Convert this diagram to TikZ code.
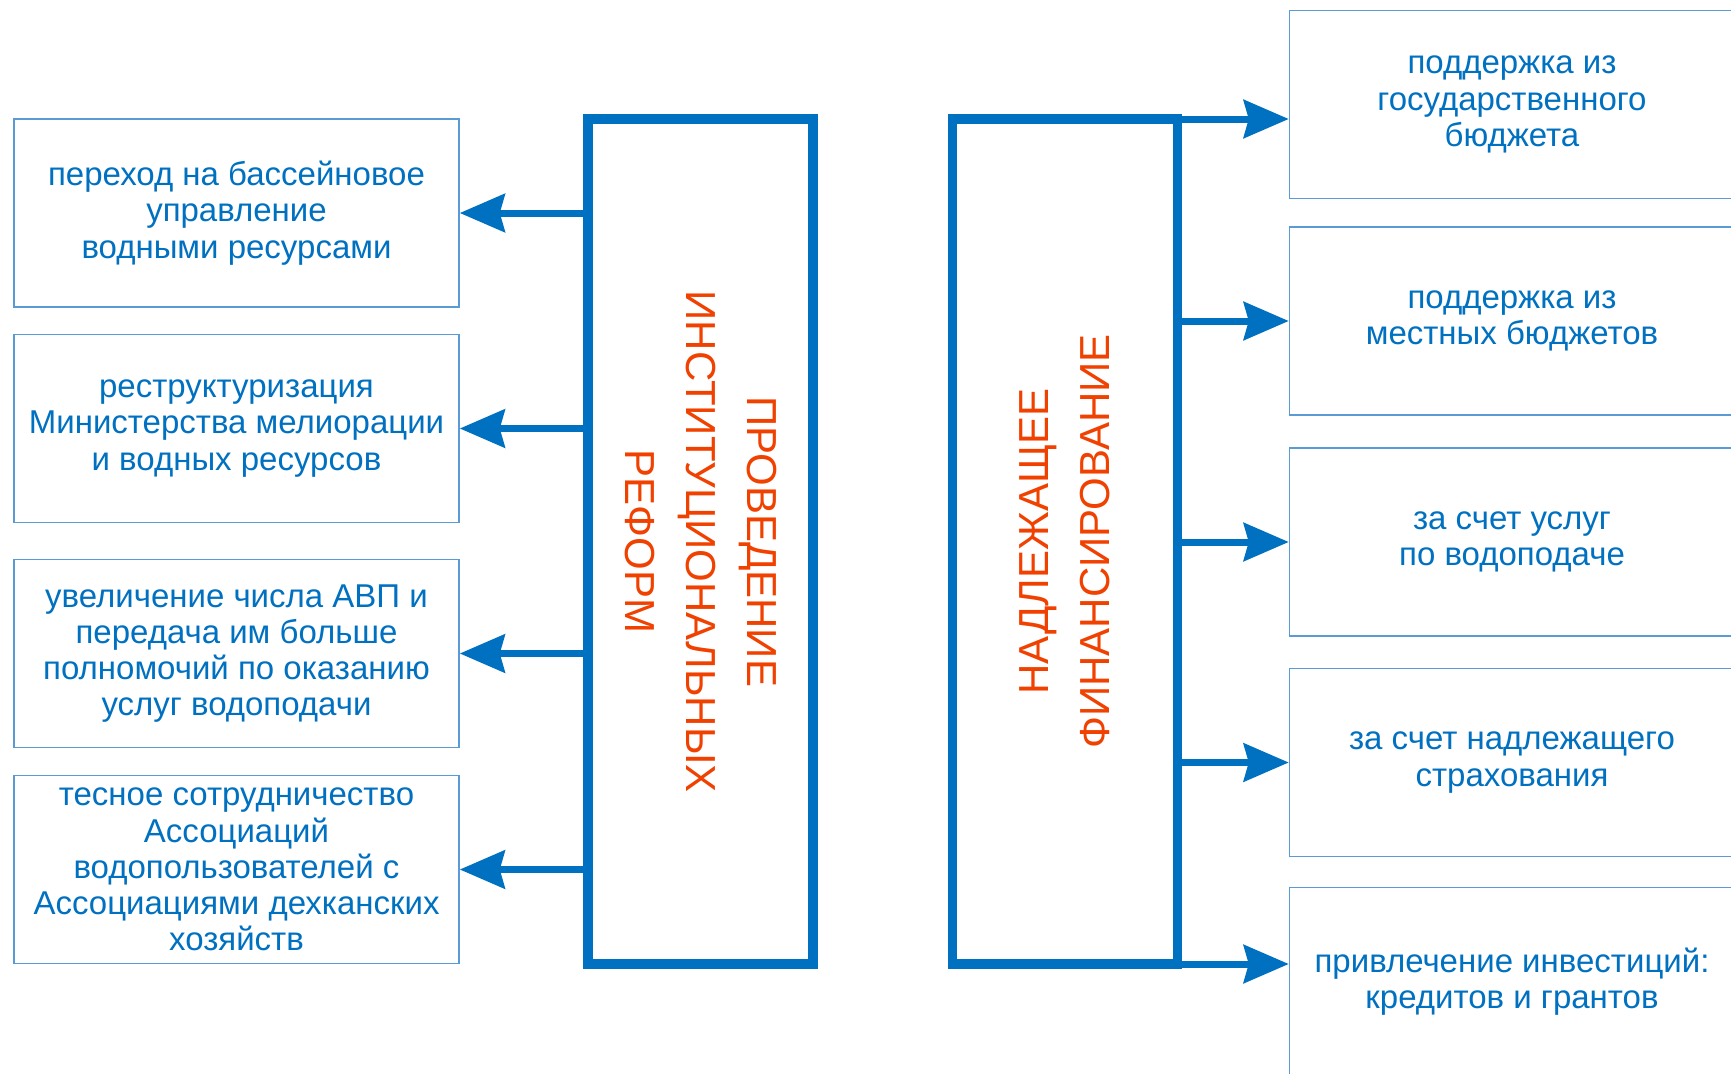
\documentclass[tikz,border=0pt]{standalone}
\usepackage{fontspec}
\setmainfont{Liberation Sans}
\usetikzlibrary{arrows.meta}
\definecolor{mainblue}{HTML}{0070C0}
\definecolor{frameblue}{HTML}{5B9BD5}
\definecolor{titlered}{RGB}{240,65,0}

\begin{document}
\begin{tikzpicture}[x=1pt, y=-1pt]
			\tikzstyle{smallbox} = [rectangle, draw=frameblue, line width=1.5pt, minimum width=445pt, minimum height=188pt, inner sep=0pt, align=center, text=mainblue, font=\fontsize{33}{36.2}\selectfont]
			\tikzstyle{bigbox}   = [rectangle, draw=mainblue, line width=9.5pt, minimum width=225pt, minimum height=845pt, inner sep=0pt, outer sep=0pt]
			\tikzstyle{vtext}    = [align=center, text=titlered, font=\fontsize{42}{61}\selectfont, inner sep=0pt]
			\tikzstyle{arr}      = [-{Stealth[length=45pt, width=38pt, inset=5pt]}, draw=mainblue, line width=7pt]

			\clip (0,0) rectangle (1731,1073);
%			\draw[help lines] (0,0) grid[step=100pt] (1731,1073);

			\node[bigbox] (reform) at (700.5, 541.5) {};
			\node[vtext, rotate=-90] (reformtext) at (reform) {ПРОВЕДЕНИЕ\\ИНСТИТУЦИОНАЛЬНЫХ\\РЕФОРМ};
			\node[bigbox] (finance) at (1065, 541.5) {};
			\node[vtext, rotate=90] (financetext) at (finance) {НАДЛЕЖАЩЕЕ\\ФИНАНСИРОВАНИЕ};

			\foreach \name/\x/\y/\txt in {l1/236.5/213/{переход на бассейновое\\управление\\водными ресурсами},
					l2/236.5/428.5/{реструктуризация\\Министерства мелиорации\\и водных ресурсов},
					l3/236.5/653.5/{увеличение числа АВП и\\передача им больше\\полномочий по оказанию\\услуг водоподачи},
					l4/236.5/869.5/{тесное сотрудничество\\Ассоциаций\\водопользователей с\\Ассоциациями дехканских\\хозяйств},
					r1/1512/104.5/{поддержка из\\государственного\\бюджета},
					r2/1512/321/{поддержка из\\местных бюджетов},
					r3/1512/542/{за счет услуг\\по водоподаче},
					r4/1512/762.5/{за счет надлежащего\\страхования},
					r5/1512/981.5/{привлечение инвестиций:\\кредитов и грантов}}
				\node[smallbox] (\name) at (\x, \y) {\txt};

			\foreach \to in {l1, l2, l3, l4}
				\draw[arr] (reform.west |- \to.east) -- (\to.east);

			\draw[arr] (finance.north east) -- (finance.north east -| r1.west);
			\foreach \to in {r2, r3, r4}
				\draw[arr] (finance.east |- \to.west) -- (\to.west);
			\draw[arr] (finance.south east) -- (finance.south east -| r5.west);
		\end{tikzpicture}
\end{document}
